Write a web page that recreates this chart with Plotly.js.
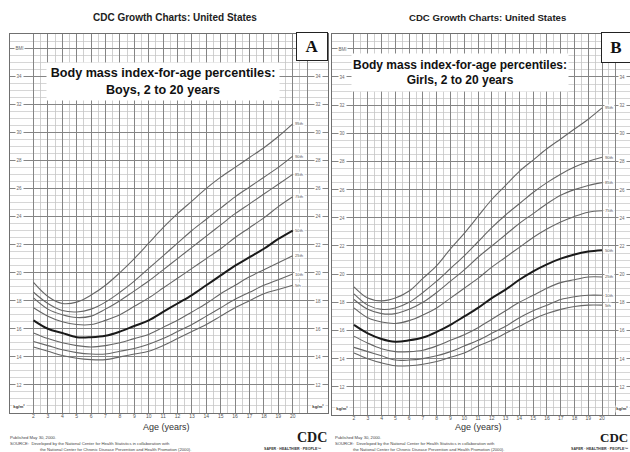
<!DOCTYPE html>
<html><head><meta charset="utf-8">
<script src="https://cdn.plot.ly/plotly-3.0.1.min.js"></script>
<style>html,body{margin:0;padding:0;background:#fff}#chart{width:630px;height:452px}</style>
</head><body><div id="chart"></div>
<script>
// ---------- data ----------
const ages = [2,3,4,5,6,7,8,9,10,11,12,13,14,15,16,17,18,19,20];
const percentileNames = ['5th','10th','25th','50th','75th','85th','90th','95th'];

const boysP5  = [14.7,14.4,14.1,13.9,13.8,13.8,14.0,14.2,14.4,14.8,15.3,15.8,16.3,16.9,17.5,18.0,18.5,18.8,19.1];
const boysP10 = [15.1,14.8,14.5,14.3,14.2,14.2,14.4,14.6,14.9,15.3,15.8,16.3,16.9,17.5,18.1,18.6,19.1,19.5,19.9];
const boysP25 = [15.7,15.3,15.0,14.8,14.7,14.8,15.0,15.3,15.6,16.1,16.6,17.2,17.8,18.5,19.1,19.7,20.2,20.7,21.2];
const boysP50 = [16.6,16.0,15.7,15.4,15.4,15.5,15.8,16.2,16.6,17.2,17.8,18.4,19.1,19.8,20.5,21.1,21.7,22.4,23.0];
const boysP75 = [17.5,16.9,16.5,16.3,16.3,16.6,17.0,17.6,18.2,18.9,19.6,20.3,21.0,21.7,22.5,23.2,23.9,24.7,25.4];
const boysP85 = [18.2,17.4,17.0,16.8,16.9,17.4,18.0,18.7,19.4,20.2,21.0,21.8,22.6,23.4,24.2,24.9,25.6,26.3,27.0];
const boysP90 = [18.6,17.8,17.3,17.2,17.4,17.9,18.6,19.4,20.3,21.2,22.1,23.0,23.8,24.6,25.4,26.1,26.8,27.5,28.3];
const boysP95 = [19.3,18.3,17.8,17.9,18.4,19.1,20.0,21.0,22.1,23.2,24.2,25.1,26.0,26.8,27.5,28.2,28.9,29.7,30.6];

const girlsP5  = [14.4,14.0,13.7,13.5,13.5,13.6,13.8,14.1,14.4,14.9,15.3,15.8,16.3,16.8,17.2,17.5,17.7,17.8,17.8];
const girlsP10 = [14.8,14.5,14.2,13.9,13.9,14.0,14.2,14.5,14.9,15.3,15.8,16.3,16.9,17.4,17.8,18.2,18.4,18.5,18.5];
const girlsP25 = [15.6,15.1,14.7,14.5,14.5,14.6,14.9,15.3,15.7,16.2,16.8,17.4,18.0,18.5,19.0,19.4,19.6,19.8,19.8];
const girlsP50 = [16.4,15.8,15.4,15.2,15.3,15.5,15.9,16.4,17.0,17.6,18.3,18.9,19.6,20.2,20.7,21.1,21.4,21.6,21.7];
const girlsP75 = [17.6,16.9,16.6,16.5,16.7,17.1,17.6,18.3,19.0,19.7,20.5,21.2,21.9,22.6,23.2,23.7,24.1,24.4,24.5];
const girlsP85 = [18.2,17.5,17.2,17.2,17.5,18.0,18.7,19.5,20.3,21.2,22.0,22.8,23.6,24.3,25.0,25.6,26.0,26.3,26.5];
const girlsP90 = [18.6,17.8,17.5,17.6,18.0,18.7,19.5,20.4,21.3,22.3,23.3,24.2,25.0,25.8,26.5,27.1,27.6,28.0,28.3];
const girlsP95 = [19.1,18.3,18.1,18.3,18.8,19.7,20.6,21.8,22.9,24.1,25.3,26.3,27.3,28.1,28.9,29.6,30.3,31.0,31.8];

const ageTickLabels = ['2','3','4','5','6','7','8','9','10','11','12','13','14','15','16','17','18','19','20'];
const bmiLabelVals = [36,34,32,30,28,26,24,22,20,18,16,14,12];
const bmiLabelText = ['BMI','34','32','30','28','26','24','22','20','18','16','14','12'];

const boysSeries = [boysP5,boysP10,boysP25,boysP50,boysP75,boysP85,boysP90,boysP95];
const girlsSeries = [girlsP5,girlsP10,girlsP25,girlsP50,girlsP75,girlsP85,girlsP90,girlsP95];

// ---------- layout helpers ----------
const W = 630, H = 452;
const px = v => v / W;
const py = v => (H - v) / H;
const FONT = 'Liberation Sans, Arial, sans-serif';

const gridYears = [];
for (let a = 2; a <= 21; a++) gridYears.push(a);
const gridText = gridYears.map((a, i) => i < ageTickLabels.length ? ageTickLabels[i] : '');
const halfYears = [];
for (let a = 2.5; a < 21; a += 1) halfYears.push(a);
const minorBmi = [];
for (let b = 10.5; b < 37; b += 0.5) { if (Math.abs(b % 2) > 1e-9) minorBmi.push(b); }

function makeTraces(series, xa, ya) {
  return series.map((vals, i) => ({
    type: 'scatter', mode: 'lines', x: ages, y: vals, xaxis: xa, yaxis: ya,
    name: percentileNames[i], hoverinfo: 'skip',
    line: { shape: 'spline', smoothing: 1,
            color: percentileNames[i] === '50th' ? '#1a1a1a' : '#666',
            width: percentileNames[i] === '50th' ? 2 : 1.1 }
  }));
}

const traces = [].concat(makeTraces(boysSeries, 'x', 'y'), makeTraces(girlsSeries, 'x2', 'y2'));

function xAxis(domain, range, anchor) {
  return {
    domain, range, anchor, fixedrange: true,
    tickmode: 'array', tickvals: gridYears, ticktext: gridText,
    ticks: '', ticklabelstandoff: -2, tickfont: { family: FONT, size: 5, color: '#555' },
    showgrid: true, gridcolor: '#858585', gridwidth: 1,
    minor: { tickmode: 'array', tickvals: halfYears, showgrid: true, gridcolor: '#bcbcbc', gridwidth: 0.7, ticks: '' },
    zeroline: false, showline: true, mirror: true, linecolor: '#707070', linewidth: 1
  };
}
function yAxis(domain, range, anchor) {
  return {
    domain, range, anchor, fixedrange: true,
    tickmode: 'linear', tick0: 10, dtick: 2, showticklabels: false, ticks: '',
    showgrid: true, gridcolor: '#858585', gridwidth: 1,
    minor: { tickmode: 'array', tickvals: minorBmi, showgrid: true, gridcolor: '#c4c4c4', gridwidth: 0.7, ticks: '' },
    zeroline: false, showline: true, mirror: true, linecolor: '#707070', linewidth: 1
  };
}

const annotations = [];
// right-hand strips: the top "BMI" label is hidden behind the panel letter box in the reference
function stripLabels(xref, yref, xval, skipTop) {
  bmiLabelVals.forEach((v, i) => {
    if (skipTop && i === 0) return;
    annotations.push({
      xref, yref, x: xval, y: v, text: bmiLabelText[i], showarrow: false,
      xanchor: 'center', yanchor: 'middle',
      font: { family: FONT, size: 4.5, color: '#666' }, bgcolor: '#fff', borderpad: 0.5
    });
  });
  annotations.push({ xref, yref, x: xval, y: 10.45, text: '<b>kg/m²</b>', showarrow: false,
    xanchor: 'center', yanchor: 'middle',
    font: { family: FONT, size: 4.3, color: '#333' }, bgcolor: '#fff', borderpad: 0.3 });
}
stripLabels('x', 'y', 1.06, false);
stripLabels('x', 'y', 21.76, true);
stripLabels('x2', 'y2', 1.2, false);
stripLabels('x2', 'y2', 21.52, true);

function pctLabels(xref, yref, series, xval) {
  series.forEach((vals, i) => annotations.push({
    xref, yref, x: xval, y: vals[vals.length - 1], text: percentileNames[i], showarrow: false,
    xanchor: 'left', yanchor: 'middle', font: { family: FONT, size: 4.2, color: '#555' }, bgcolor: '#fff', borderpad: 0
  }));
}
pctLabels('x', 'y', boysSeries, 20.12);
pctLabels('x2', 'y2', girlsSeries, 20.15);

// titles & texts
function paperText(xp, yp, text, size, opts) {
  annotations.push(Object.assign({ xref: 'paper', yref: 'paper', x: px(xp), y: py(yp), text,
    xanchor: 'center', yanchor: 'middle',
    showarrow: false, font: { family: FONT, size, color: '#222' } }, opts || {}));
}
paperText(174.5, 17, '<b>CDC Growth Charts: United States</b>', 10);
paperText(487.5, 17, '<b>CDC Growth Charts: United States</b>', 9.6);
paperText(163, 82, '<b>Body mass index-for-age percentiles:<br>Boys, 2 to 20 years</b>', 12.6,
  { bgcolor: '#fff', width: 230, height: 35, font: { family: FONT, size: 12.6, color: '#111' } });
paperText(460, 73, '<b>Body mass index-for-age percentiles:<br>Girls, 2 to 20 years</b>', 12,
  { bgcolor: '#fff', width: 214, height: 35, font: { family: FONT, size: 12, color: '#111' } });
paperText(166, 427, 'Age (years)', 9, { font: { family: FONT, size: 9, color: '#333' } });
paperText(478, 427, 'Age (years)', 9, { font: { family: FONT, size: 9, color: '#333' } });

const foot1 = 'Published May 30, 2000.';
const foot2 = 'SOURCE:  Developed by the National Center for Health Statistics in collaboration with';
const foot3 = 'the National Center for Chronic Disease Prevention and Health Promotion (2000).';
[[8, 38], [333, 351]].forEach(([x0, x1]) => {
  const f = { family: FONT, size: 4.2, color: '#444' };
  paperText(x0, 437, foot1, 4.2, { xanchor: 'left', font: f });
  paperText(x0, 443, foot2, 4.2, { xanchor: 'left', font: f });
  paperText(x1, 449, foot3, 4.2, { xanchor: 'left', font: f });
});
[[312, 292, 14], [614, 599, 13]].forEach(([xc, xs, fs]) => {
  paperText(xc, 437, '<b>CDC</b>', fs, { font: { family: 'Liberation Serif, serif', size: fs, color: '#1a1a1a' } });
  paperText(xs, 449, '<b>SAFER · HEALTHIER · PEOPLE™</b>', 3.6, { font: { family: FONT, size: 3.6, color: '#333' } });
});
// panel letters
paperText(312, 46.5, '<b>A</b>', 17, { bgcolor: '#fff', bordercolor: '#222', borderwidth: 1, width: 28, height: 25,
  font: { family: 'Liberation Serif, serif', size: 17, color: '#111' } });
paperText(616, 47.5, '<b>B</b>', 17, { bgcolor: '#fff', bordercolor: '#222', borderwidth: 1, width: 26, height: 27,
  font: { family: 'Liberation Serif, serif', size: 17, color: '#111' } });

const layout = {
  width: W, height: H, margin: { l: 0, r: 0, t: 0, b: 0, pad: 0 },
  paper_bgcolor: '#fff', plot_bgcolor: '#fff', showlegend: false,
  xaxis: xAxis([px(10), px(328)], [0.368, 22.45], 'y'),
  yaxis: yAxis([py(413), py(34)], [10, 37], 'x'),
  xaxis2: xAxis([px(332), 1], [0.404, 22.03], 'y2'),
  yaxis2: yAxis([py(415), py(34)], [10, 37.05], 'x2'),
  annotations
};

Plotly.newPlot('chart', traces, layout, { displayModeBar: false, staticPlot: true });
</script></body></html>
